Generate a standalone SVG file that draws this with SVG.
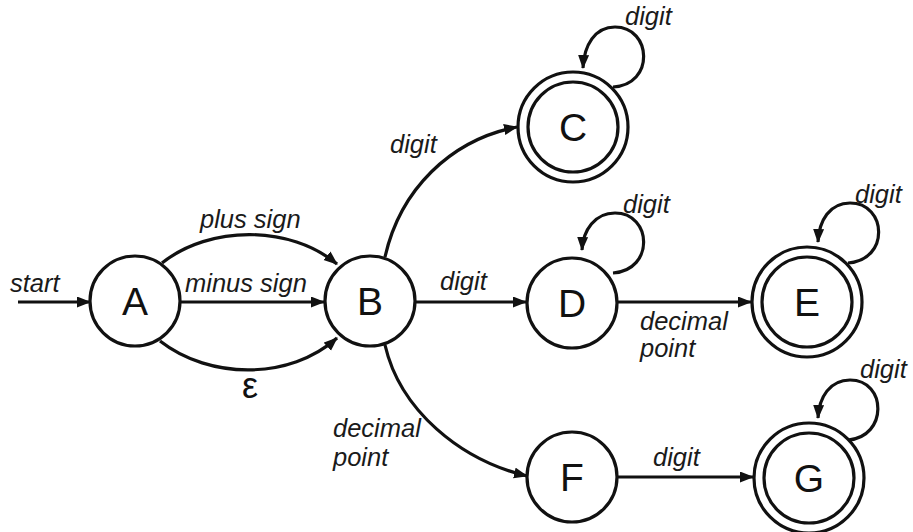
<svg xmlns="http://www.w3.org/2000/svg" width="913" height="532" viewBox="0 0 913 532">
<style>
.st{fill:#fff;stroke:#111;stroke-width:3.2}
.ed{fill:none;stroke:#111;stroke-width:3.2;marker-end:url(#ah)}
.nl{font-family:"Liberation Sans",Arial,sans-serif;font-size:39px;fill:#111;text-anchor:middle}
.el{font-family:"Liberation Sans",Arial,sans-serif;font-size:25.5px;font-style:italic;fill:#1a1a1a}
</style>
<defs>
<marker id="ah" markerUnits="userSpaceOnUse" markerWidth="16" markerHeight="12" refX="13" refY="5.5" orient="auto">
<path d="M0,0 L14,5.5 L0,11 z" fill="#111"/>
</marker>
</defs>
<rect width="913" height="532" fill="#fff"/>
<g id="connectors">
<path class="ed" d="M18 302 L90 302"/>
<path class="ed" d="M162 263 C210 225 290 225 337 264"/>
<path class="ed" d="M180 302 L324 302"/>
<path class="ed" d="M160 341 C210 380 290 380 337 338"/>
<path class="ed" d="M385 257 C400 190 450 140 517 127"/>
<path class="ed" d="M415 302 L526 302"/>
<path class="ed" d="M385 345 C400 410 460 460 527 476"/>
<path class="ed" d="M617 302 L751 302"/>
<path class="ed" d="M617 477 L753 477"/>
<path class="ed" d="M613 87 C655 85 652 27 615 27 C595 27 584 45 583 68"/>
<path class="ed" d="M613 273 C655 270 652 213 615 213 C595 213 583 230 582 250"/>
<path class="ed" d="M848 263 C890 260 887 203 850 203 C830 203 819 220 818 242"/>
<path class="ed" d="M848 440 C888 437 887 380 850 380 C830 380 819 397 818 418"/>
</g>
<g id="edge-labels">
<text class="el" x="10" y="292">start</text>
<text class="el" x="200" y="228">plus sign</text>
<text class="el" x="185" y="292">minus sign</text>
<text x="250" y="398" font-family="Liberation Sans,Arial,sans-serif" font-size="36" fill="#111" text-anchor="middle">ε</text>
<text class="el" x="390" y="153">digit</text>
<text class="el" x="440" y="290">digit</text>
<text class="el" x="333" y="437">decimal</text>
<text class="el" x="333" y="466">point</text>
<text class="el" x="640" y="330">decimal</text>
<text class="el" x="640" y="357">point</text>
<text class="el" x="653" y="466">digit</text>
<text class="el" x="625" y="25">digit</text>
<text class="el" x="623" y="213">digit</text>
<text class="el" x="855" y="203">digit</text>
<text class="el" x="860" y="378">digit</text>
</g>
<g id="node-A"><circle class="st" cx="135" cy="301" r="45"/><text class="nl" x="135" y="315">A</text></g>
<g id="node-B"><circle class="st" cx="370" cy="301" r="45"/><text class="nl" x="370" y="315">B</text></g>
<g id="node-C"><circle class="st" cx="573" cy="127" r="55"/><circle class="st" cx="573" cy="127" r="45"/><text class="nl" x="573" y="141">C</text></g>
<g id="node-D"><circle class="st" cx="572" cy="303" r="45"/><text class="nl" x="572" y="317">D</text></g>
<g id="node-E"><circle class="st" cx="807" cy="302" r="55"/><circle class="st" cx="807" cy="302" r="45"/><text class="nl" x="807" y="316">E</text></g>
<g id="node-F"><circle class="st" cx="572" cy="477" r="45"/><text class="nl" x="572" y="491">F</text></g>
<g id="node-G"><circle class="st" cx="809" cy="478" r="55"/><circle class="st" cx="809" cy="478" r="45"/><text class="nl" x="809" y="492">G</text></g>
</svg>
